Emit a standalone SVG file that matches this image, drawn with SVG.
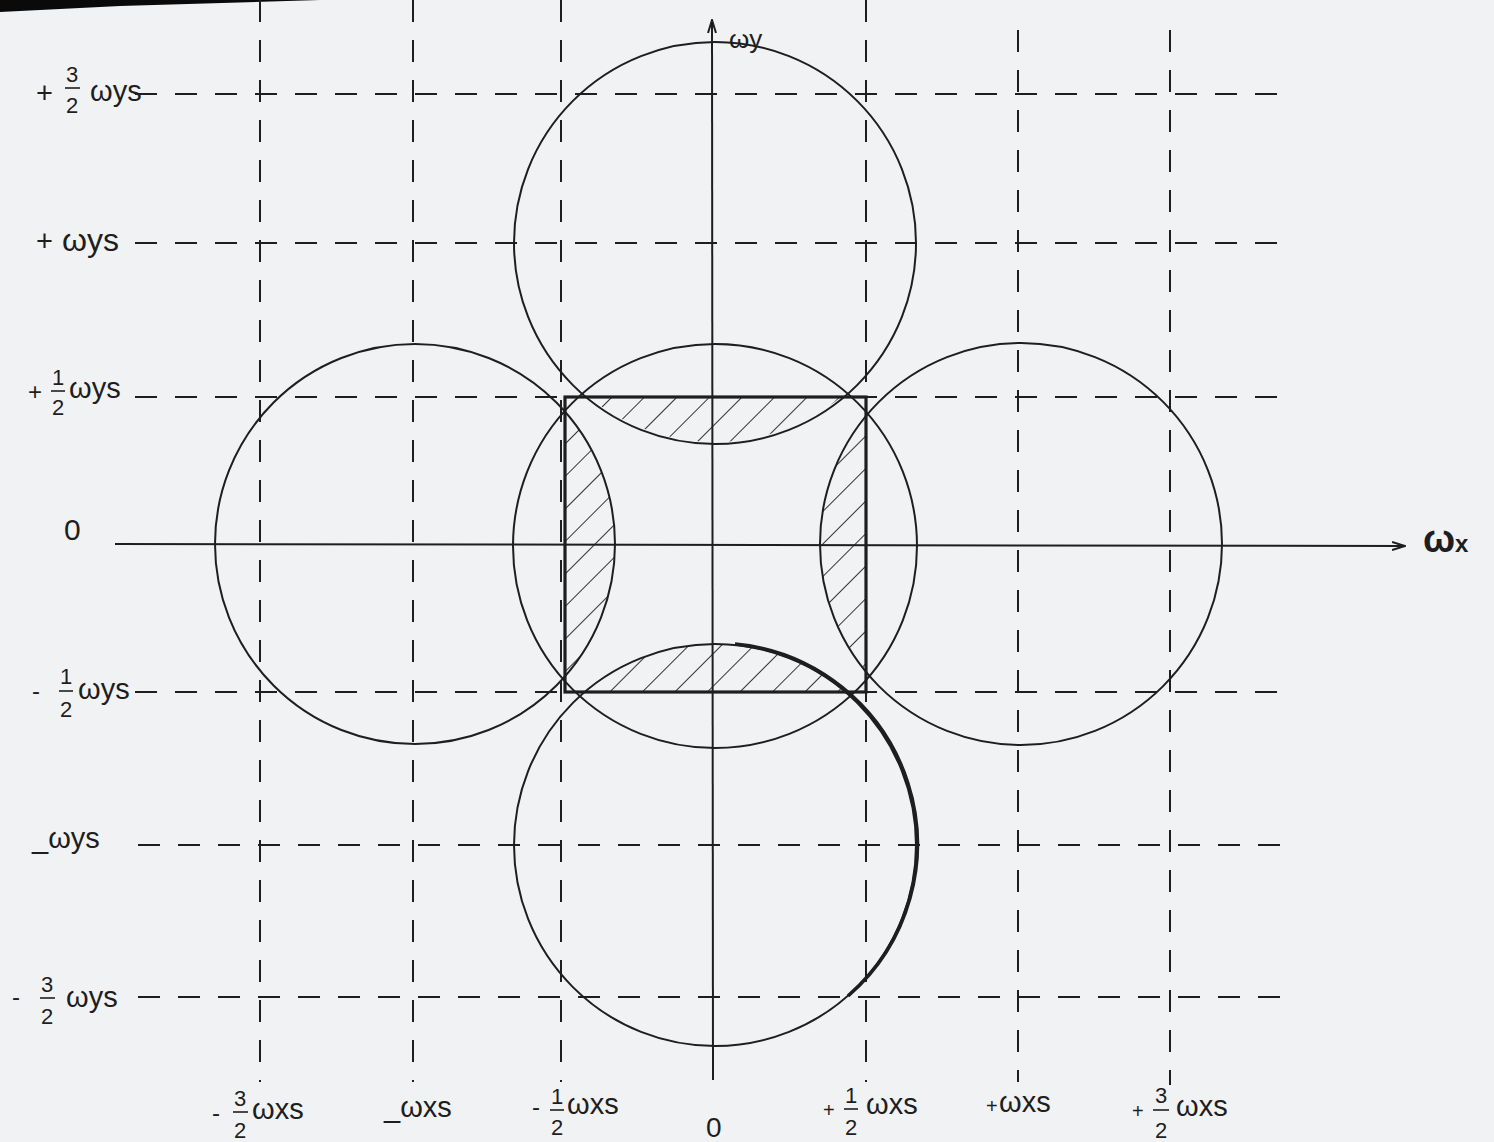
<svg xmlns="http://www.w3.org/2000/svg" width="1494" height="1142" viewBox="0 0 1494 1142">
<defs>
<style>
.grid{stroke:#1e1e1e;stroke-width:2;stroke-dasharray:22 18;fill:none}
.axis{stroke:#1e1e1e;stroke-width:2;fill:none}
.circ{stroke:#1e1e1e;stroke-width:2;fill:none}
.lbl{font-family:"Liberation Sans","DejaVu Sans",sans-serif;font-size:29px;fill:#1e1e1e}
.frac{font-family:"Liberation Sans","DejaVu Sans",sans-serif;font-size:22px;fill:#1e1e1e;text-anchor:middle}
.bar{stroke:#1e1e1e;stroke-width:1.6}
</style>
<marker id="arr" viewBox="0 0 14 10" refX="13" refY="5" markerWidth="14" markerHeight="10" markerUnits="userSpaceOnUse" orient="auto">
<path d="M0,1 L13,5 L0,9" fill="none" stroke="#1e1e1e" stroke-width="2"/>
</marker>
<pattern id="hatch" patternUnits="userSpaceOnUse" width="23" height="23" patternTransform="rotate(45)">
<line x1="0" y1="0" x2="0" y2="23" stroke="#1e1e1e" stroke-width="1.8"/>
</pattern>
<clipPath id="rectClip"><rect x="565" y="397" width="301" height="295"/></clipPath>
</defs>
<rect width="1494" height="1142" fill="#f1f2f4"/>
<polygon points="0,0 320,0 120,6 0,12" fill="#0a0a0a"/>

<g id="grid">
<line class="grid" x1="135" y1="94" x2="1295" y2="94"/>
<line class="grid" x1="135" y1="243" x2="1295" y2="243"/>
<line class="grid" x1="135" y1="397" x2="1295" y2="397"/>
<line class="grid" x1="135" y1="692" x2="1295" y2="692"/>
<line class="grid" x1="138" y1="845" x2="1295" y2="845"/>
<line class="grid" x1="138" y1="997" x2="1295" y2="997"/>
<line class="grid" x1="260" y1="0" x2="260" y2="1082"/>
<line class="grid" x1="413" y1="0" x2="413" y2="1082"/>
<line class="grid" x1="561" y1="0" x2="561" y2="1082"/>
<line class="grid" x1="866" y1="0" x2="866" y2="1082"/>
<line class="grid" x1="1018" y1="30" x2="1018" y2="1082"/>
<line class="grid" x1="1170" y1="30" x2="1170" y2="1085"/>
</g>

<g id="hatching" clip-path="url(#rectClip)">
<circle cx="715" cy="243" r="199" fill="url(#hatch)"/>
<circle cx="715" cy="845" r="201" fill="url(#hatch)"/>
<circle cx="415" cy="544" r="200" fill="url(#hatch)"/>
<circle cx="1020" cy="544" r="200" fill="url(#hatch)"/>
</g>

<g id="circles">
<circle id="c-center" class="circ" cx="715" cy="546" r="202"/>
<circle id="c-top" class="circ" cx="715" cy="243" r="201"/>
<circle id="c-bottom" class="circ" cx="715" cy="845" r="201"/>
<circle id="c-left" class="circ" cx="415" cy="544" r="200"/>
<circle id="c-right" class="circ" cx="1021" cy="544" r="201"/>
<path d="M735,644 A201,201 0 0 1 848,996" fill="none" stroke="#1e1e1e" stroke-width="3.6"/>
</g>

<g id="band">
<rect x="565" y="397" width="301" height="295" fill="none" stroke="#1e1e1e" stroke-width="3.2"/>
</g>

<g id="axes">
<line class="axis" x1="115" y1="544" x2="1405" y2="546" marker-end="url(#arr)"/>
<line class="axis" x1="713" y1="1080" x2="712" y2="20" marker-end="url(#arr)"/>
</g>

<g id="labels-y">
<g id="ly-p32"><text class="lbl" x="36" y="103">+</text><text class="frac" x="72" y="82">3</text><line class="bar" x1="65" y1="88" x2="80" y2="88"/><text class="frac" x="72" y="113">2</text><text class="lbl" x="90" y="101">ωys</text></g>
<g id="ly-p1"><text class="lbl" x="36" y="251">+</text><text class="lbl" x="62" y="251" style="font-size:32px">ωys</text></g>
<g id="ly-p12"><text class="lbl" x="28" y="400" style="font-size:24px">+</text><text class="frac" x="58" y="385">1</text><line class="bar" x1="51" y1="391" x2="65" y2="391"/><text class="frac" x="58" y="415">2</text><text class="lbl" x="69" y="398">ωys</text></g>
<text id="ly-0" class="lbl" x="64" y="540" style="font-size:30px">0</text>
<g id="ly-m12"><text class="lbl" x="32" y="699" style="font-size:24px">-</text><text class="frac" x="66" y="684">1</text><line class="bar" x1="59" y1="691" x2="73" y2="691"/><text class="frac" x="66" y="717">2</text><text class="lbl" x="78" y="699">ωys</text></g>
<g id="ly-m1"><text class="lbl" x="32" y="848">_ωys</text></g>
<g id="ly-m32"><text class="lbl" x="12" y="1005" style="font-size:24px">-</text><text class="frac" x="47" y="992">3</text><line class="bar" x1="40" y1="998" x2="55" y2="998"/><text class="frac" x="47" y="1024">2</text><text class="lbl" x="66" y="1007">ωys</text></g>
</g>

<g id="labels-x">
<g id="lx-m32"><text class="lbl" x="212" y="1121" style="font-size:24px">-</text><text class="frac" x="240" y="1106">3</text><line class="bar" x1="233" y1="1112" x2="248" y2="1112"/><text class="frac" x="240" y="1138">2</text><text class="lbl" x="252" y="1119">ωxs</text></g>
<g id="lx-m1"><text class="lbl" x="384" y="1117">_ωxs</text></g>
<g id="lx-m12"><text class="lbl" x="532" y="1115" style="font-size:24px">-</text><text class="frac" x="557" y="1104">1</text><line class="bar" x1="550" y1="1110" x2="564" y2="1110"/><text class="frac" x="557" y="1135">2</text><text class="lbl" x="567" y="1114">ωxs</text></g>
<text id="lx-0" class="lbl" x="706" y="1137" style="font-size:28px">0</text>
<g id="lx-p12"><text class="lbl" x="823" y="1117" style="font-size:20px">+</text><text class="frac" x="851" y="1103">1</text><line class="bar" x1="844" y1="1109" x2="858" y2="1109"/><text class="frac" x="851" y="1135">2</text><text class="lbl" x="866" y="1114">ωxs</text></g>
<g id="lx-p1"><text class="lbl" x="986" y="1113" style="font-size:20px">+</text><text class="lbl" x="999" y="1112">ωxs</text></g>
<g id="lx-p32"><text class="lbl" x="1132" y="1118" style="font-size:20px">+</text><text class="frac" x="1161" y="1103">3</text><line class="bar" x1="1153" y1="1110" x2="1169" y2="1110"/><text class="frac" x="1161" y="1138">2</text><text class="lbl" x="1176" y="1116">ωxs</text></g>
</g>

<g id="axis-labels">
<text id="lbl-wy" class="lbl" x="729" y="48" style="font-size:26px">ωy</text>
<text id="lbl-wx" class="lbl" x="1423" y="552" style="font-size:38px;font-weight:bold">ω<tspan style="font-size:24px">x</tspan></text>
</g>
</svg>
